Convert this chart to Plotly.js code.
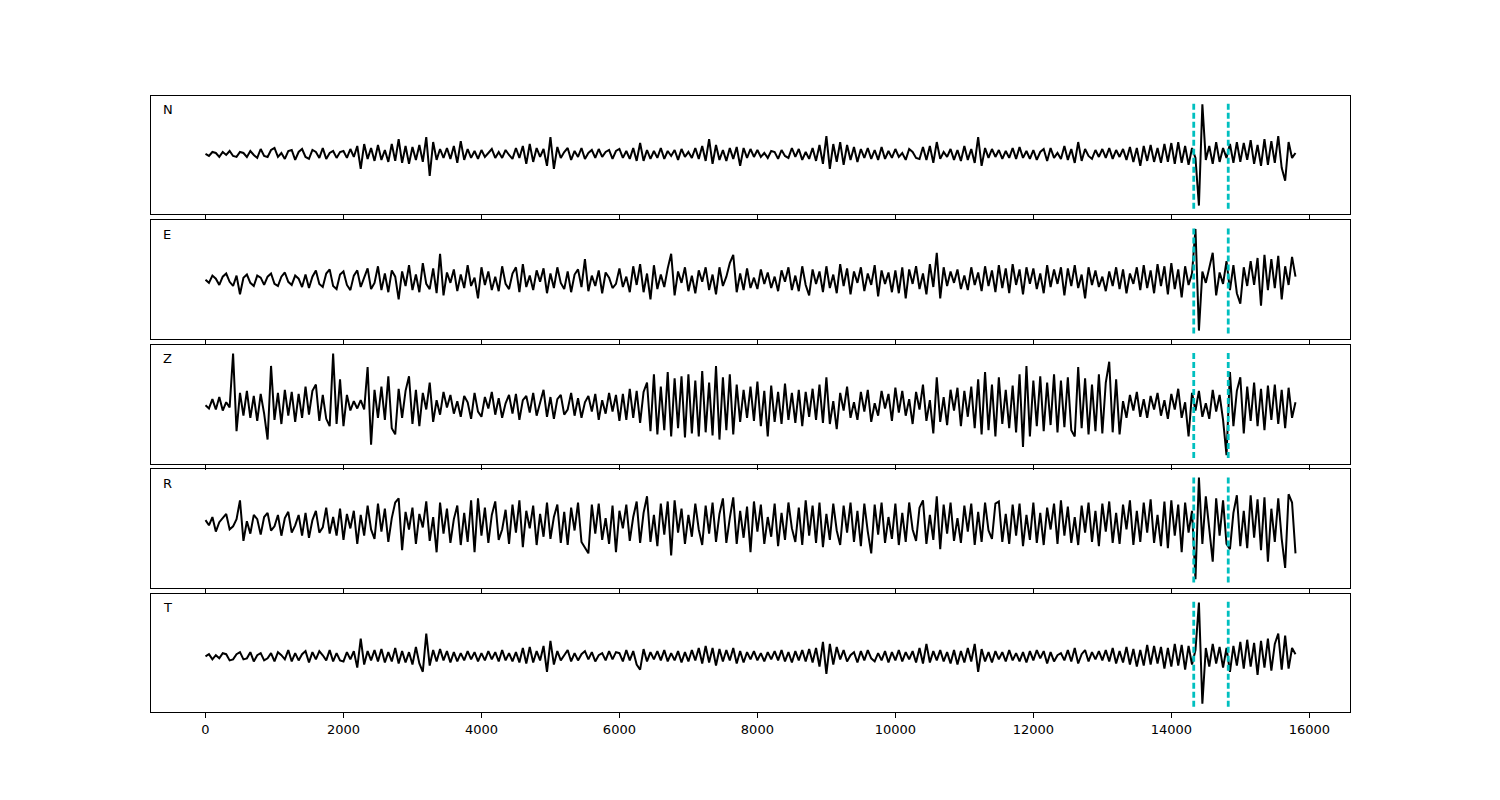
<!DOCTYPE html>
<html><head><meta charset="utf-8">
<script src="https://cdn.plot.ly/plotly-3.0.1.min.js"></script>
<style>html,body{margin:0;padding:0;background:#fff;}#chart{width:1500px;height:800px;}</style>
</head><body><div id="chart"></div>
<script>
// ---- data ----
const components = ["N", "E", "Z", "R", "T"];
const sampleStart = 0;      // time of first sample
const sampleStep = 50;      // time between samples
const picks = [14325, 14825];
const tickValues = [0, 2000, 4000, 6000, 8000, 10000, 12000, 14000, 16000];
const tickLabels = ["0", "2000", "4000", "6000", "8000", "10000", "12000", "14000", "16000"];

const traceN = [
0,-2,2,1,-3,2,-1,3,-2,-3,2,1,-3,3,-1,-4,5,-2,-3,4,
6,-3,1,-5,3,4,-6,2,5,-3,-5,4,2,-4,6,-5,1,3,-4,2,
3,-4,5,-3,8,-15,10,-5,6,-7,9,-6,4,-8,10,-7,15,-9,8,-10,
7,-6,9,-8,17,-22,12,-6,5,-4,6,-5,8,-9,13,-6,5,-4,3,-5,
4,-3,1,5,-4,2,-4,4,-1,-5,6,-4,8,-10,10,-8,6,-3,5,-12,
17,-15,7,-4,2,6,-6,3,-3,6,-5,1,4,-4,5,-3,2,4,-5,3,
5,-4,3,-5,6,-7,11,-7,4,-5,3,-4,6,-5,3,-2,4,-6,5,-3,
2,-4,6,-5,8,-7,15,-10,9,-6,4,-7,6,-5,7,-12,6,-4,5,-3,
4,-3,1,-4,3,2,-5,4,-2,-4,6,-3,5,-6,2,-5,6,-7,9,-10,
18,-15,10,-8,12,-11,9,-6,7,-8,5,-4,6,-5,4,-6,7,-5,3,-4,
5,-3,1,-6,5,2,-4,-5,7,-6,8,-9,12,-5,2,-3,5,-6,4,-7,
8,-6,5,-9,17,-12,6,-4,5,-3,4,-5,3,-4,6,-5,7,-4,3,-5,
4,-6,2,5,-7,6,-4,1,-5,8,-6,5,-9,12,-7,5,-2,-5,4,-3,
5,-4,6,-5,4,-3,5,-6,7,-8,6,-12,8,-7,9,-8,6,-9,10,-8,
11,-10,12,-9,8,-11,6,-4,-52,50,-6,8,-10,12,-8,6,-4,10,-9,12,
-8,11,-6,14,-10,9,-12,15,-11,13,-9,18,-14,-27,12,-4,1
];
const traceE = [
0,-3,4,1,-5,3,6,-2,-6,4,-14,2,5,-3,-6,4,2,-5,3,6,
-4,-6,3,7,-2,-5,4,1,-7,5,-8,3,9,-4,-7,6,10,-6,-9,5,
8,-5,-10,4,9,-7,2,11,-9,-3,13,-10,6,-12,9,3,-19,8,-6,14,
-10,5,-12,16,-4,-9,11,-13,25,-15,7,-3,10,-11,5,-8,14,-6,2,-18,
12,-5,8,-10,3,-11,13,-4,-9,6,12,-12,15,-7,4,-10,9,-2,11,-13,
6,-8,12,-3,-9,8,-12,5,10,-7,20,-11,4,-6,9,-13,7,2,-8,-4,
11,-7,3,-12,13,-5,15,-12,6,-19,14,-9,5,-7,11,25,-15,8,-3,12,
-11,4,-13,9,-2,12,-10,5,-14,12,-6,3,16,24,-12,6,-10,11,-8,2,
-9,10,-4,7,-8,3,-11,9,-2,12,-10,4,-11,13,-5,-15,10,-4,8,-12,
13,-8,5,-13,15,-6,11,-14,8,-3,12,-11,6,-5,14,-16,9,-4,7,-12,
9,-13,12,-18,10,-4,13,-9,6,-14,15,-7,26,-18,12,-6,8,-3,10,-9,
4,-10,12,-5,7,-11,13,-6,9,-12,14,-8,11,-13,15,-5,10,-14,12,-4,
11,-9,6,-13,14,-7,10,-4,12,-15,11,-6,14,-8,5,-18,12,-5,9,-7,
3,-11,8,-6,12,-9,10,-13,6,-4,12,-10,14,-8,9,-13,15,-6,13,-14,
16,-9,10,-17,13,-5,6,49,-49,8,-3,11,26,-15,7,-4,18,-10,14,-13,
-23,12,-6,18,-5,21,-25,24,-10,20,-8,23,-19,13,-5,22,3
];
const traceZ = [
0,-3,6,-4,8,-5,3,-2,50,-25,12,-10,14,-12,9,-15,11,-8,-33,38,
-14,12,-18,15,-10,13,-16,11,-12,18,-9,14,20,-15,10,-13,-20,50,-18,25,
-20,10,-5,4,-3,5,-4,37,-38,15,-12,18,-14,28,-22,-28,16,-12,14,28,
-18,15,-20,12,-4,22,-16,5,-9,13,-2,10,-8,4,-11,9,3,-13,12,-6,
-11,8,-3,13,-9,7,-12,2,10,-8,11,-14,5,9,-7,12,-10,4,15,-11,
8,-13,6,10,-9,-4,12,-10,7,-12,3,9,-6,11,-14,5,-8,12,-6,10,
-15,11,-14,16,-12,14,-17,13,22,-25,30,-28,18,-24,32,-30,26,-22,28,-31,
30,-27,24,-30,33,-26,22,-29,38,-33,27,-24,30,-28,20,-16,15,-12,18,-15,
23,-20,14,-30,19,-16,13,-18,21,-14,12,-17,15,-20,13,-11,16,-14,20,-17,
27,-18,4,-23,12,-5,18,-12,3,-14,13,-6,15,-16,2,-10,14,-3,11,-15,
17,-7,14,-10,6,-18,13,-4,20,-15,5,-27,27,-16,8,-19,15,-5,17,-20,
14,-11,18,-22,25,-28,32,-24,20,-30,27,-18,15,-22,19,-26,30,-40,38,-30,
24,-20,28,-25,22,-19,30,-26,24,-21,27,-24,-30,37,-22,26,-28,20,-25,30,
-27,22,42,-26,25,-28,4,-12,10,-5,13,-11,6,-12,9,-4,12,-10,5,-13,
11,-4,16,-12,3,-30,12,-5,14,-11,2,-13,15,-6,10,-14,-48,32,-20,14,
27,-27,18,-15,22,-20,16,-24,19,-14,20,-18,15,-22,17,-12,3
];
const traceR = [
3,-2,6,-8,1,5,9,-6,-3,4,22,-17,2,-10,8,4,-11,6,10,-7,
-3,8,-12,5,11,-9,-2,8,-12,10,-14,3,12,-9,-4,15,-10,6,-12,14,
-16,9,-5,12,-20,8,-12,17,-6,-15,19,-8,14,-18,5,20,24,-26,11,-6,
15,-20,9,-4,21,-17,6,-28,20,-10,14,-19,4,17,-21,10,-18,22,-28,24,
-12,15,-19,8,21,-16,-6,13,-20,18,-9,22,-23,12,-5,17,-21,9,-13,20,
-15,6,18,-19,11,-21,15,-7,20,-18,-24,-29,18,-10,19,-16,5,-20,17,-28,
12,-5,18,-17,6,21,-19,10,26,-18,8,-22,19,-11,21,-31,22,-9,14,-20,
8,-13,19,-6,-21,17,-10,20,-18,9,24,-19,5,25,-20,12,-14,16,-28,21,
-8,18,-20,6,-13,19,-22,10,-16,20,-5,-18,15,-21,22,-12,17,-19,20,-23,
9,-16,19,-7,-21,17,-9,20,-18,12,-22,19,-8,-29,18,-11,20,-19,6,-15,
19,-21,10,-18,20,-6,-17,15,22,-20,8,-16,26,-25,18,-10,20,-17,5,-19,
17,-8,19,-21,11,-18,20,-7,-15,19,21,-18,9,-20,18,-12,19,-22,8,-16,
20,-19,10,-21,15,-6,19,-20,22,-12,16,-19,6,-21,17,-9,20,-18,12,-22,
19,-8,21,-19,10,-20,18,-6,22,-21,12,-18,20,-9,23,-19,8,-22,21,-24,
22,-12,18,-28,20,-9,12,-54,44,-20,26,-8,-37,24,-12,22,-20,-25,10,27,
-22,12,-24,27,-14,23,-26,25,-37,14,-18,24,-15,-43,28,20,-29
];
const traceT = [
0,2,-3,1,-2,3,2,-4,-3,2,4,-3,-2,4,-5,1,3,-4,-2,3,
-5,4,1,-3,6,-5,3,-4,2,5,-6,4,-3,5,1,-4,6,-5,3,-4,
-5,4,-3,5,-11,17,-8,5,-4,6,-5,7,-6,4,-5,8,-7,5,-6,4,
-8,9,-7,-15,22,-9,6,-5,7,-4,5,-6,4,-5,3,-4,5,-3,4,-5,
3,-4,5,-3,4,-5,6,-4,3,-5,4,-6,8,-7,9,-6,5,-4,10,-15,
15,-8,5,-4,1,6,-5,3,-4,2,5,-3,4,-5,1,3,-4,5,-3,4,
3,-5,6,-4,5,-8,-13,7,-5,4,-3,5,-4,6,-5,3,-4,5,-6,4,
-5,6,-4,8,-7,10,-6,8,-9,7,-5,6,-4,8,-7,5,-6,4,-3,5,
-4,3,-5,4,-3,5,-4,6,-5,4,-6,5,-4,6,-5,7,-6,8,-10,14,
-17,12,-8,9,-3,6,-5,1,4,-6,5,-4,6,-2,-5,3,-4,5,-6,4,
-4,6,-5,4,-3,5,-6,8,-7,12,-6,5,-4,6,-5,4,-7,6,-8,5,
-6,8,-5,12,-15,7,-5,4,-6,5,-3,4,-5,6,-4,3,-5,4,-6,5,
-4,6,-2,5,-7,4,-5,1,3,-4,6,-5,8,-7,2,6,-5,4,-3,5,
-4,6,-5,8,-7,5,-6,9,-8,7,-10,6,-9,11,-8,10,-7,9,-12,8,
-10,12,-9,11,-13,10,-8,6,52,-46,8,-10,12,-7,9,-11,8,-15,10,-9,
14,-12,16,-10,13,-18,15,-11,17,-14,12,22,-13,20,-12,8,2
];

// ---- drawing ----
const series = [traceN, traceE, traceZ, traceR, traceT];
const FONT = "DejaVu Sans";
const domains = [[0.8084, 1.0], [0.6055, 0.7979], [0.4034, 0.5958], [0.2013, 0.3937], [0.0, 0.1916]];
const xRange = [-790, 16590];

const data = [];
const layout = {
  width: 1500, height: 800,
  margin: {l: 151, r: 150, t: 96, b: 88, pad: 0},
  paper_bgcolor: "#ffffff", plot_bgcolor: "#ffffff",
  showlegend: false,
  font: {family: FONT, size: 13, color: "#000000"},
  shapes: [], annotations: []
};

series.forEach((vals, k) => {
  const n = k + 1;
  const xa = n === 1 ? "x" : "x" + n;
  const ya = n === 1 ? "y" : "y" + n;
  data.push({
    type: "scatter", mode: "lines",
    x0: sampleStart, dx: sampleStep, y: vals,
    xaxis: xa, yaxis: ya,
    line: {color: "#000000", width: 2},
    hoverinfo: "skip"
  });
  const mn = Math.min(...vals), mx = Math.max(...vals);
  const lo = mn * 1.06, hi = mx * 1.06;
  const pad = 0.05 * (hi - lo);
  const xax = {
    anchor: ya, range: xRange,
    showline: true, mirror: true, linecolor: "#000000", linewidth: 1,
    showgrid: false, zeroline: false,
    ticks: "outside", ticklen: 5, tickwidth: 1, tickcolor: "#000000",
    tickmode: "array", tickvals: tickValues, ticktext: tickLabels,
    showticklabels: n === 5,
    tickfont: {family: FONT, size: 13, color: "#000000"}
  };
  if (n > 1) xax.matches = "x";
  layout[n === 1 ? "xaxis" : "xaxis" + n] = xax;
  layout[n === 1 ? "yaxis" : "yaxis" + n] = {
    anchor: xa, domain: domains[k], range: [lo - pad, hi + pad],
    showline: true, mirror: true, linecolor: "#000000", linewidth: 1,
    showgrid: false, zeroline: false, ticks: "", showticklabels: false
  };
  picks.forEach(p => {
    layout.shapes.push({
      type: "line", xref: xa, yref: ya, x0: p, x1: p, y0: lo, y1: hi,
      line: {color: "#00BFBF", width: 2.8, dash: "6px,3px"}, layer: "above"
    });
  });
  layout.annotations.push({
    text: components[k], xref: xa + " domain", yref: ya + " domain",
    x: 0.008, y: 0.965, xanchor: "left", yanchor: "top", showarrow: false,
    font: {family: FONT, size: 13, color: "#000000"}
  });
});

Plotly.newPlot("chart", data, layout, {staticPlot: true, displayModeBar: false});
</script>
</body></html>
